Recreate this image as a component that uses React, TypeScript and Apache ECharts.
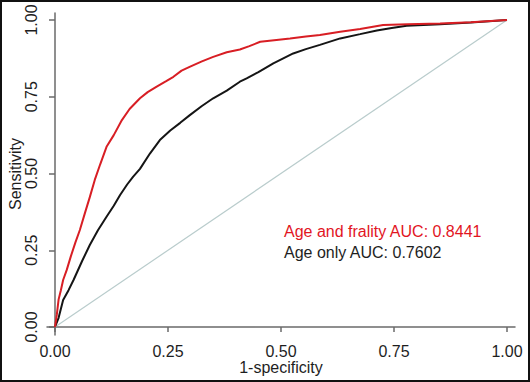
import React, { useEffect, useRef } from "react";
import * as echarts from "echarts";

// ROC curve: Age and frailty model (false positive rate, true positive rate)
const frailtyFpr = [0, 0.004, 0.008, 0.013, 0.018, 0.026, 0.035, 0.045, 0.055, 0.066, 0.077, 0.088, 0.1, 0.114, 0.13, 0.148, 0.165, 0.188, 0.205, 0.225, 0.245, 0.262, 0.28, 0.299, 0.325, 0.35, 0.38, 0.409, 0.43, 0.454, 0.49, 0.52, 0.555, 0.586, 0.631, 0.675, 0.726, 0.78, 0.852, 0.92, 1];
const frailtyTpr = [0, 0.04, 0.09, 0.12, 0.153, 0.186, 0.23, 0.275, 0.316, 0.37, 0.423, 0.479, 0.53, 0.587, 0.625, 0.674, 0.71, 0.745, 0.765, 0.783, 0.8, 0.815, 0.835, 0.848, 0.865, 0.88, 0.895, 0.904, 0.915, 0.929, 0.935, 0.94, 0.946, 0.951, 0.962, 0.971, 0.984, 0.986, 0.989, 0.993, 1];

// ROC curve: Age only model
const ageFpr = [0, 0.008, 0.018, 0.03, 0.041, 0.06, 0.077, 0.095, 0.114, 0.13, 0.144, 0.16, 0.173, 0.188, 0.21, 0.232, 0.255, 0.277, 0.299, 0.325, 0.35, 0.38, 0.409, 0.424, 0.45, 0.483, 0.505, 0.527, 0.555, 0.586, 0.631, 0.675, 0.712, 0.745, 0.778, 0.815, 0.852, 0.92, 1];
const ageTpr = [0, 0.03, 0.088, 0.12, 0.153, 0.215, 0.267, 0.315, 0.359, 0.395, 0.43, 0.465, 0.49, 0.515, 0.565, 0.609, 0.64, 0.665, 0.691, 0.72, 0.745, 0.77, 0.799, 0.81, 0.83, 0.859, 0.875, 0.891, 0.905, 0.919, 0.94, 0.954, 0.966, 0.974, 0.981, 0.984, 0.986, 0.992, 1];

// Reference diagonal
const diagX = [0, 1];
const diagY = [0, 1];

const tickValues = [0, 0.25, 0.5, 0.75, 1];
const seriesNames = ["Age and frality", "Age only"];
const aucValues = ["0.8441", "0.7602"];
const xTitle = "1-specificity";
const yTitle = "Sensitivity";

const zip = (xs: number[], ys: number[]) => xs.map((x, i) => [x, ys[i]]);

export default function App() {
  const ref = useRef<HTMLDivElement>(null);
  useEffect(() => {
    if (!ref.current) return;
    const chart = echarts.init(ref.current, null, { renderer: "svg" });
    const axisColor = "#6a6a6a";
    const font = "Liberation Sans, Arial, sans-serif";
    const labelStyle = {
      color: "#1e1e1e",
      fontSize: 16,
      fontFamily: font,
    };
    chart.setOption({
      animation: false,
      backgroundColor: "#ffffff",
      grid: {
        left: 47,
        right: 15,
        top: 13,
        bottom: 47,
        containLabel: false,
        outerBoundsMode: "none",
      },
      xAxis: {
        type: "value",
        min: -8 / 452,
        max: 1 + 8 / 452,
        name: xTitle,
        nameLocation: "middle",
        nameGap: 24,
        nameMoveOverlap: false,
        nameTextStyle: { ...labelStyle },
        axisLine: { show: true, lineStyle: { color: axisColor, width: 1.5 } },
        axisTick: {
          show: true,
          length: 5,
          customValues: tickValues,
          lineStyle: { color: axisColor, width: 1.5 },
        },
        axisLabel: {
          ...labelStyle,
          margin: 8,
          customValues: tickValues,
          formatter: (v: number) => v.toFixed(2),
        },
        splitLine: { show: false },
      },
      yAxis: {
        type: "value",
        min: -8 / 307,
        max: 1 + 7 / 307,
        name: yTitle,
        nameLocation: "middle",
        nameGap: 24,
        nameMoveOverlap: false,
        nameTextStyle: { ...labelStyle },
        axisLine: { show: true, lineStyle: { color: axisColor, width: 1.5 } },
        axisTick: {
          show: true,
          length: 6,
          customValues: tickValues,
          lineStyle: { color: axisColor, width: 1.5 },
        },
        axisLabel: {
          ...labelStyle,
          margin: 8,
          rotate: 90,
          customValues: tickValues,
          formatter: (v: number) => v.toFixed(2),
        },
        splitLine: { show: false },
      },
      series: [
        {
          type: "line",
          name: "diagonal",
          data: zip(diagX, diagY),
          showSymbol: false,
          symbol: "none",
          lineStyle: { color: "#b9cccc", width: 1.2 },
          z: 1,
        },
        {
          type: "line",
          name: seriesNames[1],
          data: zip(ageFpr, ageTpr),
          symbol: "none",
          lineStyle: { color: "#151515", width: 2 },
          z: 2,
        },
        {
          type: "line",
          name: seriesNames[0],
          data: zip(frailtyFpr, frailtyTpr),
          symbol: "none",
          lineStyle: { color: "#d81e24", width: 2 },
          z: 3,
        },
      ],
      graphic: [
        {
          type: "rect",
          shape: { x: 1, y: 1, width: 528, height: 380 },
          style: { fill: "none", stroke: "#111111", lineWidth: 2 },
          silent: true,
          z: 10,
        },
        {
          type: "text",
          x: 284,
          y: 231,
          style: {
            text: `${seriesNames[0]} AUC: ${aucValues[0]}`,
            fill: "#e2151f",
            fontSize: 16,
            fontFamily: font,
            textVerticalAlign: "middle",
          },
        },
        {
          type: "text",
          x: 284,
          y: 252,
          style: {
            text: `${seriesNames[1]} AUC: ${aucValues[1]}`,
            fill: "#1e1e1e",
            fontSize: 16,
            fontFamily: font,
            textVerticalAlign: "middle",
          },
        },
      ],
    });
    return () => chart.dispose();
  }, []);
  return (
    <div
      ref={ref}
      style={{ position: "absolute", left: 0, top: 0, width: 530, height: 382 }}
    />
  );
}
